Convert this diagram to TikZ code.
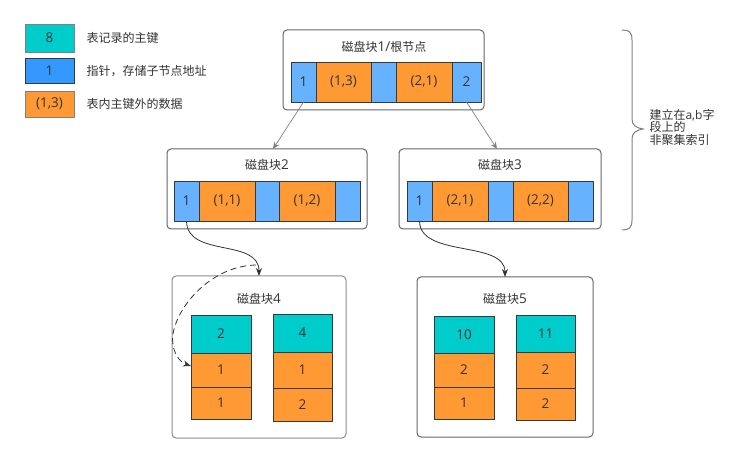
\documentclass[tikz,border=0pt]{standalone}
\usepackage{fontspec}
\setmainfont{Open Sans}
\newfontfamily\cjkf{Noto Sans CJK SC}
\newcommand\cjk{\cjkf\fontsize{12}{14}\selectfont}
\usetikzlibrary{arrows.meta}
\definecolor{cyanc}{HTML}{00CCCC}
\definecolor{orangec}{HTML}{FF9933}
\definecolor{bluec}{HTML}{66B2FF}
\definecolor{blueleg}{HTML}{3399FF}
\definecolor{txt}{HTML}{333333}
\definecolor{cellbd}{HTML}{36393D}
\definecolor{boxbd}{HTML}{666666}
\tikzset{
  every node/.style={font=\fontsize{13.5}{15}\selectfont, text=txt},
  cellst/.style={draw=cellbd, line width=0.9pt, inner sep=0pt, outer sep=0pt},
  legst/.style={draw=#1, line width=0.9pt, inner sep=0pt, outer sep=0pt},
  container/.style={draw=boxbd, line width=1pt, rounded corners=4pt, inner sep=0pt, outer sep=0pt, fill=white},
  tree/.style={draw=gray, line width=0.7pt, -{Stealth[length=7pt,width=6pt]}},
  link/.style={draw=txt, line width=0.8pt, -{Stealth[length=8pt,width=6pt]}},
  dlink/.style={draw=txt, line width=0.8pt, dash pattern=on 6pt off 4pt, -{Stealth[length=8pt,width=6pt]}},
  braceline/.style={draw=gray, line width=1pt},
}
\newcommand\bx[7]{\node[cellst,fill=#6,minimum width={(#4-#2)*1pt},minimum height={(#5-#3)*1pt}] (#1) at ({(#2+#4)/2},{(#3+#5)/2}) {#7};}
\newcommand\cont[5]{\node[container,minimum width={(#4-#2)*1pt},minimum height={(#5-#3)*1pt}] (#1) at ({(#2+#4)/2},{(#3+#5)/2}) {};}
\begin{document}
\begin{tikzpicture}[x=1pt,y=-1pt]
\useasboundingbox (0,0) rectangle (755,462);
\fill[white] (0,0) rectangle (755,462);
% legend
\node[legst=gray,fill=cyanc,minimum width=49pt,minimum height=28pt] (lg1) at (49.5,38) {8};
\node[legst=cellbd,fill=blueleg,minimum width=49pt,minimum height=25pt] (lg2) at (49.5,70.5) {1};
\node[legst=gray,fill=orangec,minimum width=49pt,minimum height=26pt] (lg3) at (49.5,104) {(1,3)};
\node[anchor=west,font=\cjk] (lt1) at (83,38) {表记录的主键};
\node[anchor=west,font=\cjk] (lt2) at (83,71) {指针，存储子节点地址};
\node[anchor=west,font=\cjk] (lt3) at (83,104) {表内主键外的数据};
% containers
\cont{b1}{283}{30}{484}{110}
\cont{b2}{167}{149}{367}{229}
\cont{b3}{399}{149}{601}{229}
\node[container,draw=gray!90,minimum width=174pt,minimum height=162pt] (b4) at (259,357) {};
\cont{b5}{417}{277}{593}{437}
% titles
\node (t1) at (384,47) {{\cjk 磁盘块}1/{\cjk 根节点}};
\node (t2) at (267,165) {{\cjk 磁盘块}2};
\node (t3) at (500,165) {{\cjk 磁盘块}3};
\node (t4) at (259,299) {{\cjk 磁盘块}4};
\node (t5) at (505,299) {{\cjk 磁盘块}5};
% block1 cells
\bx{r1a}{291}{62}{316}{102}{bluec}{1}
\bx{r1b}{316}{62}{371}{102}{orangec}{(1,3)}
\bx{r1c}{371}{62}{396}{102}{bluec}{}
\bx{r1d}{396}{62}{452}{102}{orangec}{(2,1)}
\bx{r1e}{452}{62}{481}{102}{bluec}{2}
% block2 cells
\bx{r2a}{174}{181}{199}{221}{bluec}{1}
\bx{r2b}{199}{181}{255}{221}{orangec}{(1,1)}
\bx{r2c}{255}{181}{279}{221}{bluec}{}
\bx{r2d}{279}{181}{335}{221}{orangec}{(1,2)}
\bx{r2e}{335}{181}{360}{221}{bluec}{}
% block3 cells
\bx{r3a}{407}{181}{432}{221}{bluec}{1}
\bx{r3b}{432}{181}{488}{221}{orangec}{(2,1)}
\bx{r3c}{488}{181}{513}{221}{bluec}{}
\bx{r3d}{513}{181}{568}{221}{orangec}{(2,2)}
\bx{r3e}{568}{181}{593}{221}{bluec}{}
% block4 cells
\bx{b4a1}{191}{315}{251}{353}{cyanc}{2}
\bx{b4a2}{191}{353}{251}{387}{orangec}{1}
\bx{b4a3}{191}{387}{251}{419}{orangec}{1}
\bx{b4b1}{273}{314}{332}{352}{cyanc}{4}
\bx{b4b2}{273}{352}{332}{388}{orangec}{1}
\bx{b4b3}{273}{388}{332}{421}{orangec}{2}
% block5 cells
\bx{b5a1}{434}{316}{494}{353}{cyanc}{10}
\bx{b5a2}{434}{353}{494}{387}{orangec}{2}
\bx{b5a3}{434}{387}{494}{419}{orangec}{1}
\bx{b5b1}{516}{315}{575}{352}{cyanc}{11}
\bx{b5b2}{516}{352}{575}{388}{orangec}{2}
\bx{b5b3}{516}{388}{575}{420}{orangec}{2}
% connectors
\draw[tree] (r1a.south) -- ([xshift=6pt]b2.north);
\draw[tree] (r1e.south) -- ([xshift=-3pt]b3.north);
\draw[link] (r2a.south) .. controls (187,258) and (259,238) .. (b4.north);
\draw[link] (r3a.south) .. controls (420,258) and (505,240) .. (b5.north);
\coordinate (ds) at (256,265);
\draw[dlink] (ds) .. controls (205,266) and (168,318) .. (173,345) .. controls (175,357) and (182,363) .. ([yshift=4pt]b4a2.west);
% brace
\draw[braceline] (622,30) .. controls (629,30) and (632,32) .. (632,40) -- (632,119) .. controls (632,125) and (636,128) .. (643,129) .. controls (636,130) and (632,133) .. (632,139) -- (632,220) .. controls (632,228) and (629,230) .. (622,230);
\node[anchor=west,align=left,font=\fontsize{12}{12.5}\selectfont] (bt) at (646,127) {{\cjk 建立在}a,b{\cjk 字}\\{\cjk 段上的}\\{\cjk 非聚集索引}};
\end{tikzpicture}
\end{document}
